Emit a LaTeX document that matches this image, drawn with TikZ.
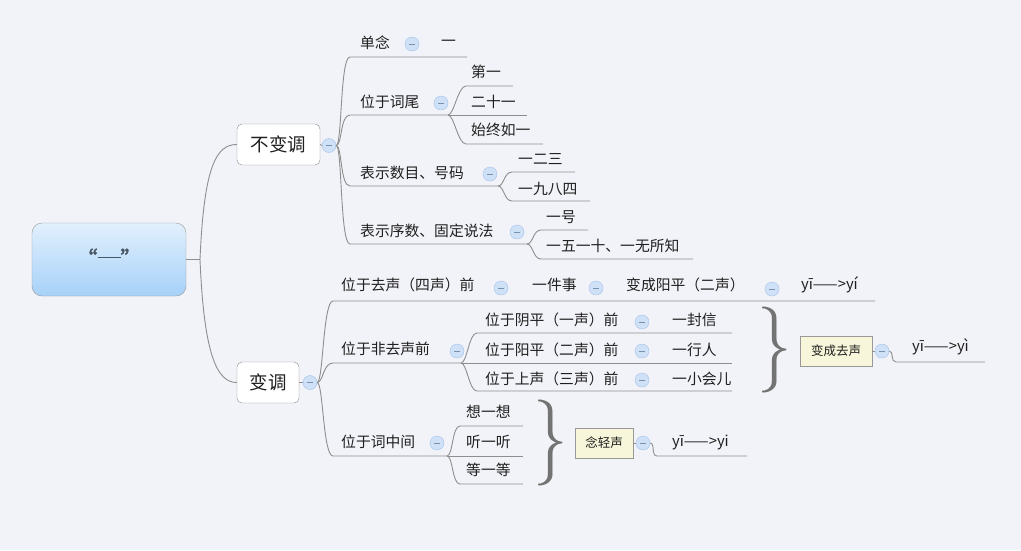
\documentclass[tikz,border=0pt]{standalone}
\usepackage{fontspec}
\usepackage{tikz}
\usetikzlibrary{positioning}
\newfontfamily\cjk{Noto Sans CJK SC}
\newfontfamily\cjkbold[FakeBold=2.5]{Noto Sans CJK SC}
\definecolor{canvas}{HTML}{F2F3F8}
\definecolor{linegray}{HTML}{8E8E8E}
\definecolor{foldfill}{HTML}{CFE1F7}
\definecolor{folddraw}{HTML}{A3C0E6}
\definecolor{notefill}{HTML}{F7F6DA}
\definecolor{roottop}{HTML}{E2F0FD}
\definecolor{rootbot}{HTML}{A6D1F8}
\definecolor{roottext}{HTML}{4A5866}

\begin{document}
\begin{tikzpicture}[x=1pt, y=-1pt,
    every node/.style={font=\cjk\fontsize{14.8}{17}\selectfont, text=black!88},
    lbl/.style={anchor=west, inner sep=0pt},
    root/.style={draw=black!40, rounded corners=10pt, top color=roottop, bottom color=rootbot,
                 minimum width=154pt, minimum height=73pt, text=roottext,
                 font=\cjkbold\fontsize{21}{22}\selectfont},
    topic/.style={draw=black!45, fill=white, rounded corners=5pt, minimum height=41pt,
                  inner sep=0pt, font=\cjk\fontsize{18.5}{21}\selectfont},
    note/.style={draw=black!40, fill=notefill, inner sep=0pt, minimum height=30pt,
                 font=\cjk\fontsize{12.5}{14}\selectfont},
    fold/.style={circle, draw=folddraw, fill=foldfill, minimum size=14pt, inner sep=0pt,
                 path picture={\draw[folddraw!75!black, line width=0.6pt]
                   ([xshift=-2.8pt]path picture bounding box.center) --
                   ([xshift=2.8pt]path picture bounding box.center);}},
    curly/.style={inner sep=0pt, text=black!55, font=\fontsize{86}{86}\selectfont},
    br/.style={draw=linegray, line width=0.9pt}
]
\fill[canvas] (0,0) rectangle (1021,550);
\useasboundingbox (0,0) rectangle (1021,550);

% ── Root ──────────────────────────────────────────────────────────────────
\node[root] (root) at (109,259.5) {\raisebox{4pt}{“\rule[8pt]{23pt}{1.6pt}”}};

% ── Main topics ───────────────────────────────────────────────────────────
\node[topic, minimum width=83pt] (bbd) at (278.5,144.5) {不变调};
\node[fold] (fbbd) at (329,145.5) {};
\node[topic, minimum width=62pt] (bd) at (268,382.5) {变调};
\node[fold] (fbd) at (310,382.5) {};

\coordinate (rj) at (200,259.5);
\draw[br] (root.east) -- (rj);
\draw[br] (rj) .. controls +(4,-95) and +(-20,0) .. (bbd.west);
\draw[br] (rj) .. controls +(4,95) and +(-20,0) .. (bd.west);
\draw[br] (bbd.east) -- (fbbd.west);
\draw[br] (bd.east) -- (fbd.west);

% ── 不变调: 单念 ──────────────────────────────────────────────────────────
\node[lbl] (dn) at (360,43) {单念};
\node[fold] (fdn) at (412,44) {};
\node[lbl] (dn1) at (441,43) {一};
\coordinate (dn-s) at (350,57);
\coordinate (dn-e) at (467,57);
\draw[br] (fbbd.east) .. controls +(6,0) and +(-10,0) .. (dn-s) -- (dn-e);

% ── 不变调: 位于词尾 ──────────────────────────────────────────────────────
\node[lbl] (cw) at (360,102) {位于词尾};
\node[fold] (fcw) at (441,103) {};
\coordinate (cw-s) at (350,115);
\coordinate (cw-b) at (448,115);
\draw[br] (fbbd.east) .. controls +(6,0) and +(-10,0) .. (cw-s) -- (cw-b);
\node[lbl] (cw1) at (471,72) {第一};
\node[lbl] (cw2) at (471,102) {二十一};
\node[lbl] (cw3) at (471,130) {始终如一};
\coordinate (cw1-s) at (466,86);
\coordinate (cw1-e) at (513,86);
\coordinate (cw2-e) at (527,115);
\coordinate (cw3-s) at (466,144);
\coordinate (cw3-e) at (543,144);
\draw[br] (cw-b) .. controls +(6,0) and +(-8,0) .. (cw1-s) -- (cw1-e);
\draw[br] (cw-b) -- (cw2-e);
\draw[br] (cw-b) .. controls +(6,0) and +(-8,0) .. (cw3-s) -- (cw3-e);

% ── 不变调: 表示数目、号码 ────────────────────────────────────────────────
\node[lbl] (sm) at (360,173) {表示数目、号码};
\node[fold] (fsm) at (490,174) {};
\coordinate (sm-s) at (350,186);
\coordinate (sm-b) at (498,186);
\draw[br] (fbbd.east) .. controls +(6,0) and +(-10,0) .. (sm-s) -- (sm-b);
\node[lbl] (sm1) at (518,159) {一二三};
\node[lbl] (sm2) at (518,189) {一九八四};
\coordinate (sm1-s) at (512,172);
\coordinate (sm1-e) at (575,172);
\coordinate (sm2-s) at (512,201);
\coordinate (sm2-e) at (590,201);
\draw[br] (sm-b) .. controls +(6,0) and +(-8,0) .. (sm1-s) -- (sm1-e);
\draw[br] (sm-b) .. controls +(6,0) and +(-8,0) .. (sm2-s) -- (sm2-e);

% ── 不变调: 表示序数、固定说法 ────────────────────────────────────────────
\node[lbl] (xs) at (360,231) {表示序数、固定说法};
\node[fold] (fxs) at (517,232) {};
\coordinate (xs-s) at (350,244);
\coordinate (xs-b) at (527,244);
\draw[br] (fbbd.east) .. controls +(6,0) and +(-10,0) .. (xs-s) -- (xs-b);
\node[lbl] (xs1) at (546,217) {一号};
\node[lbl] (xs2) at (546,246) {一五一十、一无所知};
\coordinate (xs1-s) at (541,230);
\coordinate (xs1-e) at (588,230);
\coordinate (xs2-s) at (541,259);
\coordinate (xs2-e) at (693,259);
\draw[br] (xs-b) .. controls +(6,0) and +(-8,0) .. (xs1-s) -- (xs1-e);
\draw[br] (xs-b) .. controls +(6,0) and +(-8,0) .. (xs2-s) -- (xs2-e);

% ── 变调: 位于去声（四声）前 ──────────────────────────────────────────────
\node[lbl] (qs) at (341,285) {位于去声（四声）前};
\node[fold] (fqs) at (501,288) {};
\node[lbl] (qs1) at (532,285) {一件事};
\node[fold] (fqs1) at (596,288) {};
\node[lbl] (qs2) at (626,285) {变成阳平（二声）};
\node[fold] (fqs2) at (772,289) {};
\node[lbl] (qs3) at (801,285) {yī——>yí};
\coordinate (qs-s) at (333,301);
\coordinate (qs-e) at (875,301);
\draw[br] (fbd.east) .. controls +(6,0) and +(-10,0) .. (qs-s) -- (qs-e);

% ── 变调: 位于非去声前 ────────────────────────────────────────────────────
\node[lbl] (fq) at (341,349) {位于非去声前};
\node[fold] (ffq) at (457,351) {};
\coordinate (fq-s) at (333,363);
\coordinate (fq-b) at (461,363);
\draw[br] (fbd.east) .. controls +(6,0) and +(-10,0) .. (fq-s) -- (fq-b);
\node[lbl] (yp1) at (485,320) {位于阴平（一声）前};
\node[lbl] (yp2) at (485,350) {位于阳平（二声）前};
\node[lbl] (yp3) at (485,379) {位于上声（三声）前};
\node[fold] (fyp1) at (642,322) {};
\node[fold] (fyp2) at (642,351) {};
\node[fold] (fyp3) at (642,380) {};
\node[lbl] (yp1a) at (672,320) {一封信};
\node[lbl] (yp2a) at (672,350) {一行人};
\node[lbl] (yp3a) at (672,379) {一小会儿};
\coordinate (yp1-s) at (477,333);
\coordinate (yp1-e) at (732,333);
\coordinate (yp2-e) at (732,363);
\coordinate (yp3-s) at (477,391);
\coordinate (yp3-e) at (732,391);
\draw[br] (fq-b) .. controls +(6,0) and +(-8,0) .. (yp1-s) -- (yp1-e);
\draw[br] (fq-b) -- (yp2-e);
\draw[br] (fq-b) .. controls +(6,0) and +(-8,0) .. (yp3-s) -- (yp3-e);

\node[curly] (brc1) at (775,350) {\scalebox{0.8}[1]{\}}};
\node[note, minimum width=72pt] (bq) at (836,351) {变成去声};
\node[fold] (fbq) at (882,351) {};
\node[lbl] (bq1) at (912,347) {yī——>yì};
\coordinate (bq-s) at (896,362);
\coordinate (bq-e) at (985,362);
\draw[br] (bq.east) -- (fbq.west);
\draw[br] (fbq.east) .. controls +(5,0) and +(-6,0) .. (bq-s) -- (bq-e);

% ── 变调: 位于词中间 ──────────────────────────────────────────────────────
\node[lbl] (cz) at (341,442) {位于词中间};
\node[fold] (fcz) at (437,443) {};
\coordinate (cz-s) at (333,456);
\coordinate (cz-b) at (447,456);
\draw[br] (fbd.east) .. controls +(6,0) and +(-10,0) .. (cz-s) -- (cz-b);
\node[lbl] (cz1) at (466,412) {想一想};
\node[lbl] (cz2) at (466,442) {听一听};
\node[lbl] (cz3) at (466,470) {等一等};
\coordinate (cz1-s) at (460,426);
\coordinate (cz1-e) at (523,426);
\coordinate (cz2-e) at (523,456);
\coordinate (cz3-s) at (460,484);
\coordinate (cz3-e) at (523,484);
\draw[br] (cz-b) .. controls +(6,0) and +(-8,0) .. (cz1-s) -- (cz1-e);
\draw[br] (cz-b) -- (cz2-e);
\draw[br] (cz-b) .. controls +(6,0) and +(-8,0) .. (cz3-s) -- (cz3-e);

\node[curly] (brc2) at (551,443) {\scalebox{0.8}[1]{\}}};
\node[note, minimum width=58pt] (qsh) at (604,443) {念轻声};
\node[fold] (fqsh) at (643,443) {};
\node[lbl] (qsh1) at (672,442) {yī——>yi};
\coordinate (qsh-s) at (657,456);
\coordinate (qsh-e) at (747,456);
\draw[br] (qsh.east) -- (fqsh.west);
\draw[br] (fqsh.east) .. controls +(5,0) and +(-6,0) .. (qsh-s) -- (qsh-e);

\end{tikzpicture}
\end{document}
